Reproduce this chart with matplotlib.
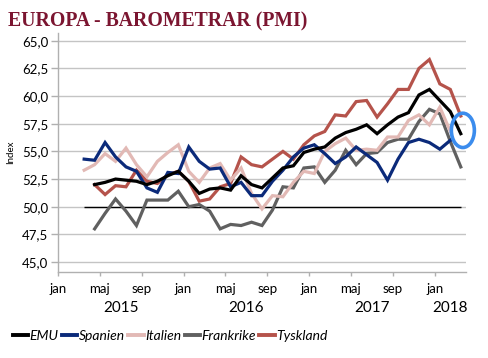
import numpy as np
import matplotlib
matplotlib.use('Agg')
import matplotlib.pyplot as plt
from matplotlib.patches import Ellipse
from matplotlib.lines import Line2D

plt.rcParams['font.family'] = ['Lato', 'DejaVu Sans']

# PMI, manadsdata. Spanien och Italien borjar mar 2015 och slutar feb 2018,
# ovriga borjar apr 2015 och slutar mar 2018
emu = [52.0, 52.2, 52.5, 52.4, 52.3, 52.0, 52.3, 52.8, 53.2,
       52.3, 51.2, 51.6, 51.7, 51.5, 52.8, 52.0, 51.7, 52.6, 53.5, 53.7, 54.9,
       55.2, 55.4, 56.2, 56.7, 57.0, 57.4, 56.6, 57.4, 58.1, 58.5, 60.1, 60.6,
       59.6, 58.6, 56.6]
spanien = [54.3, 54.2, 55.8, 54.5, 53.6, 53.2, 51.7, 51.3, 53.1, 53.0,
           55.4, 54.1, 53.4, 53.5, 51.8, 52.2, 51.0, 51.0, 52.3, 53.3, 54.5, 55.3,
           55.6, 54.8, 53.9, 54.5, 55.4, 54.7, 54.0, 52.4, 54.3, 55.8, 56.1, 55.8,
           55.2, 56.0]
italien = [53.3, 53.8, 54.8, 54.1, 55.3, 53.8, 52.7, 54.1, 54.9, 55.6,
           53.2, 52.2, 53.5, 53.9, 52.4, 53.5, 51.2, 49.8, 51.0, 50.9, 52.2, 53.2,
           53.0, 55.0, 55.7, 56.2, 55.1, 55.2, 55.1, 56.3, 56.3, 57.8, 58.3, 57.4,
           59.0, 56.8]
frankrike = [48.0, 49.4, 50.7, 49.6, 48.3, 50.6, 50.6, 50.6, 51.4,
             50.0, 50.2, 49.6, 48.0, 48.4, 48.3, 48.6, 48.3, 49.7, 51.8, 51.7, 53.5,
             53.6, 52.2, 53.3, 55.1, 53.8, 54.8, 54.9, 55.8, 56.1, 56.1, 57.7, 58.8,
             58.4, 55.9, 53.6]
tyskland = [52.0, 51.1, 51.9, 51.8, 53.3, 52.3, 52.1, 52.9, 53.2,
            52.3, 50.5, 50.7, 51.8, 52.1, 54.5, 53.8, 53.6, 54.3, 55.0, 54.3, 55.6,
            56.4, 56.8, 58.3, 58.2, 59.5, 59.6, 58.1, 59.3, 60.6, 60.6, 62.5, 63.3,
            61.1, 60.6, 58.2]
grans = 50.0

manader = ['jan', 'maj', 'sep']
ar = ['2015', '2016', '2017', '2018']


def xpos(start_ar, start_man, n):
    # manad 0 = jan 2015, punkten mitt i manaden
    s = (start_ar - 2015) * 12 + (start_man - 1)
    return np.arange(s, s + n) + 0.5


fig = plt.figure(figsize=(4.88, 3.58), dpi=100)
ax = fig.add_axes([58 / 488, 1 - 272 / 358, 408 / 488, 239 / 358])

x_sp = xpos(2015, 3, len(spanien))
x_emu = xpos(2015, 4, len(emu))

ax.hlines(grans, x_sp[0], x_emu[-1], color='black', lw=1.0, zorder=2)

serier = [
    ('EMU', emu, x_emu, '#000000'),
    ('Spanien', spanien, x_sp, '#0b2a7a'),
    ('Italien', italien, xpos(2015, 3, len(italien)), '#e2b9b5'),
    ('Frankrike', frankrike, xpos(2015, 4, len(frankrike)), '#606060'),
    ('Tyskland', tyskland, xpos(2015, 4, len(tyskland)), '#b5534b'),
]
# ritordning: Italien underst, EMU overst
ordning = [2, 4, 3, 1, 0]
for i in ordning:
    namn, v, x, c = serier[i]
    ax.plot(x, v, color=c, lw=2.3, zorder=3 + (4 - i), solid_joinstyle='miter')

ax.add_patch(Ellipse((38.7, 56.9), 2.2, 3.1, fill=False, ec='#3b8ced',
                     lw=2.6, clip_on=False, zorder=10))

ax.set_xlim(0, 39)
ax.set_ylim(44.1, 65.7)

yt = np.arange(45, 65.1, 2.5)
ax.set_yticks(yt)
ax.set_yticklabels([f'{v:.1f}'.replace('.', ',') for v in yt], fontsize=9.5)
ax.yaxis.grid(True, color='#c4c4c4', lw=1.0)
ax.set_axisbelow(True)

xt = np.arange(0, 37, 4)
ax.set_xticks(xt)
ax.set_xticklabels([manader[(t // 4) % 3] for t in xt], fontsize=9.5)
for k, a in enumerate(ar):
    mitt = k * 12 + 6 if k < 3 else 37.5
    ax.text(mitt, -0.15, a, transform=ax.get_xaxis_transform(),
            ha='center', va='center', fontsize=11)

ax.tick_params(axis='y', length=5, width=1, color='#b0b0b0', pad=2)
ax.tick_params(axis='x', length=3, width=1, color='#b0b0b0', pad=5)
for s in ['top', 'right']:
    ax.spines[s].set_visible(False)
for s in ['left', 'bottom']:
    ax.spines[s].set_color('#b0b0b0')
    ax.spines[s].set_linewidth(1.0)

ax.set_ylabel('Index', fontsize=7)
ax.yaxis.set_label_coords(-0.105, 0.5)

fig.text(8 / 488, 1 - 26 / 358, 'EUROPA - BAROMETRAR (PMI)',
         family='Liberation Serif', weight='bold', fontsize=14.2,
         color='#7b1530', va='baseline')

handles = [Line2D([], [], color=c, lw=2.8) for _, _, _, c in serier]
fig.legend(handles, [s[0] for s in serier], loc='center left',
           bbox_to_anchor=(13 / 488, 1 - 336 / 358), ncol=5, frameon=False,
           prop={'style': 'italic', 'size': 10}, handlelength=1.1,
           handletextpad=0.1, columnspacing=0.25, borderaxespad=0,
           borderpad=0)

fig.savefig('out.png', dpi=100)
